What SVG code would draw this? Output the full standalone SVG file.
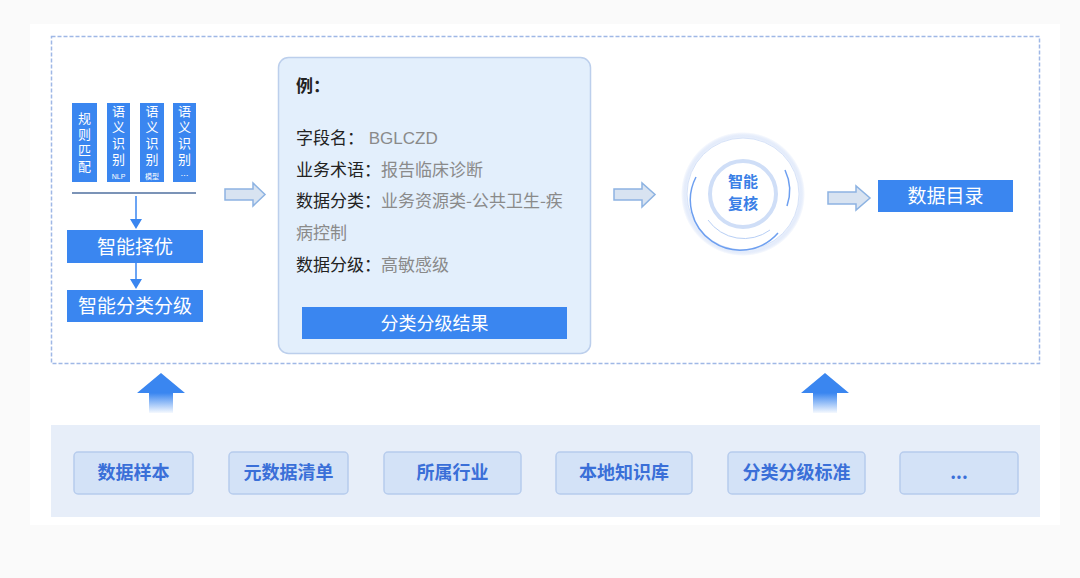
<svg xmlns="http://www.w3.org/2000/svg" width="1080" height="578" viewBox="0 0 1080 578">
<style>
.cn{font-family:"Noto Sans CJK SC","Liberation Sans",sans-serif}
.bar{fill:#3a86f0}
.btn{fill:#3a86f0}
.wt{fill:#fff;font-family:"Noto Sans CJK SC","Liberation Sans",sans-serif}
.vt{writing-mode:vertical-rl;letter-spacing:3px;font-size:13px}
.hollow{fill:#d8e3f1;stroke:#8db3e2;stroke-width:1.5}
.src rect{fill:#d3e2f7;stroke:#b7cced;stroke-width:1.5}
.src text{fill:#3a6fd8;font-size:18px;font-weight:bold;text-anchor:middle;font-family:"Noto Sans CJK SC","Liberation Sans",sans-serif}
.lbl{fill:#222;font-size:17px}
.val{fill:#8a8a8a;font-size:17px}
</style>
<defs>
<linearGradient id="up" x1="0" y1="0" x2="0" y2="1">
<stop offset="0" stop-color="#3a86f0"/>
<stop offset="0.5" stop-color="#3a86f0"/>
<stop offset="1" stop-color="#3a86f0" stop-opacity="0.05"/>
</linearGradient>
<radialGradient id="glow" cx="0.5" cy="0.5" r="0.5">
<stop offset="0.8" stop-color="#ffffff"/>
<stop offset="0.93" stop-color="#e4ecfb"/>
<stop offset="1" stop-color="#c9d8f6" stop-opacity="0"/>
</radialGradient>
</defs>
<rect width="1080" height="578" fill="#fafafa"/>
<rect x="30" y="24" width="1030" height="501" fill="#ffffff"/>
<rect x="51.5" y="36.5" width="988" height="327" fill="none" stroke="#9fb8e6" stroke-width="1.5" stroke-dasharray="4 2"/>
<rect x="51" y="425" width="989" height="92" fill="#e7eef9"/>

<g id="models">
<rect class="bar" x="72" y="103" width="25" height="79"/>
<rect class="bar" x="107" y="103" width="23" height="79"/>
<rect class="bar" x="140" y="103" width="24" height="79"/>
<rect class="bar" x="173" y="103" width="23" height="79"/>
<g class="wt">
<text class="vt" x="84.5" y="112">规则匹配</text>
<text class="vt" x="118.5" y="105">语义识别</text>
<text x="118.5" y="179" font-size="7" text-anchor="middle" font-family="Liberation Sans,sans-serif">NLP</text>
<text class="vt" x="152" y="105">语义识别</text>
<text x="152" y="179" font-size="7" text-anchor="middle">模型</text>
<text class="vt" x="184.5" y="105">语义识别</text>
<text x="184.5" y="179" font-size="8" text-anchor="middle">…</text>
</g>
<line x1="72" y1="193" x2="196" y2="193" stroke="#4f6f9f" stroke-width="1.5"/>
</g>

<g id="optimize">
<rect class="btn" x="67" y="230" width="136" height="33"/>
<text class="wt" x="135" y="254" font-size="19" text-anchor="middle">智能择优</text>
</g>
<g id="classify">
<rect class="btn" x="67" y="290" width="136" height="32"/>
<text class="wt" x="135" y="313" font-size="19" text-anchor="middle">智能分类分级</text>
</g>

<g id="example">
<rect x="278.5" y="57.5" width="312" height="296" rx="10" fill="#e3effc" stroke="#bccfec" stroke-width="1.5"/>
<g class="cn">
<text x="296" y="92" font-size="17" font-weight="bold" fill="#222">例：</text>
<text x="296" y="144"><tspan class="lbl">字段名：</tspan><tspan class="val" font-family="Liberation Sans,sans-serif"> BGLCZD</tspan></text>
<text x="296" y="176"><tspan class="lbl">业务术语：</tspan><tspan class="val">报告临床诊断</tspan></text>
<text x="296" y="207"><tspan class="lbl">数据分类：</tspan><tspan class="val">业务资源类-公共卫生-疾</tspan></text>
<text x="296" y="239" class="val">病控制</text>
<text x="296" y="271"><tspan class="lbl">数据分级：</tspan><tspan class="val">高敏感级</tspan></text>
</g>
<rect class="btn" x="302" y="307" width="265" height="32"/>
<text class="wt" x="434.5" y="330" font-size="18" text-anchor="middle">分类分级结果</text>
</g>

<g id="review">
<circle cx="743" cy="194" r="62" fill="url(#glow)"/>
<circle cx="743" cy="194" r="56" fill="#fff" stroke="#d6e2f8" stroke-width="1"/>
<path d="M696,177 A50,50 0 0 0 778,233" fill="none" stroke="#6d9ff0" stroke-width="1.5"/>
<path d="M785,170 A48,48 0 0 1 787,206" fill="none" stroke="#6d9ff0" stroke-width="1.5"/>
<path d="M708,220 A44,44 0 0 0 770,230" fill="none" stroke="#b8cff5" stroke-width="1"/>
<circle cx="743" cy="194" r="33" fill="#fff" stroke="#cfdef7" stroke-width="4"/>
<g class="cn" font-size="15" font-weight="bold" fill="#3a7fe6" text-anchor="middle">
<text x="743" y="187">智能</text>
<text x="743" y="209">复核</text>
</g>
</g>

<g id="catalog">
<rect class="btn" x="878" y="180" width="135" height="32"/>
<text class="wt" x="945.5" y="203" font-size="19" text-anchor="middle">数据目录</text>
</g>

<g id="sources" class="src">
<rect x="74" y="452" width="119" height="42" rx="4"/><text x="133.5" y="479">数据样本</text>
<rect x="229" y="452" width="119" height="42" rx="4"/><text x="288.5" y="479">元数据清单</text>
<rect x="384" y="452" width="137" height="42" rx="4"/><text x="452.5" y="479">所属行业</text>
<rect x="556" y="452" width="136" height="42" rx="4"/><text x="624" y="479">本地知识库</text>
<rect x="728" y="452" width="137" height="42" rx="4"/><text x="796.5" y="479">分类分级标准</text>
<rect x="900" y="452" width="118" height="42" rx="4"/><text x="959" y="479">...</text>
</g>

<g id="connectors">
<line x1="136" y1="196" x2="136" y2="221" stroke="#3a86f0" stroke-width="1.5"/>
<path d="M130,219 L142,219 L136,229 Z" fill="#3a86f0"/>
<line x1="136" y1="263" x2="136" y2="281" stroke="#3a86f0" stroke-width="1.5"/>
<path d="M130,279 L142,279 L136,289 Z" fill="#3a86f0"/>
<path class="hollow" d="M225,189 L253,189 L253,183 L265,194.5 L253,206 L253,200 L225,200 Z"/>
<path class="hollow" d="M614,189 L642,189 L642,183 L655,194.5 L642,207 L642,200 L614,200 Z"/>
<path class="hollow" d="M828,192 L856,192 L856,186 L870,198 L856,210 L856,204 L828,204 Z"/>
<path d="M161,373 L185,393 L173,393 L173,413 L149,413 L149,393 L137,393 Z" fill="url(#up)"/>
<path d="M825,373 L849,393 L837,393 L837,413 L813,413 L813,393 L801,393 Z" fill="url(#up)"/>
</g>
</svg>
